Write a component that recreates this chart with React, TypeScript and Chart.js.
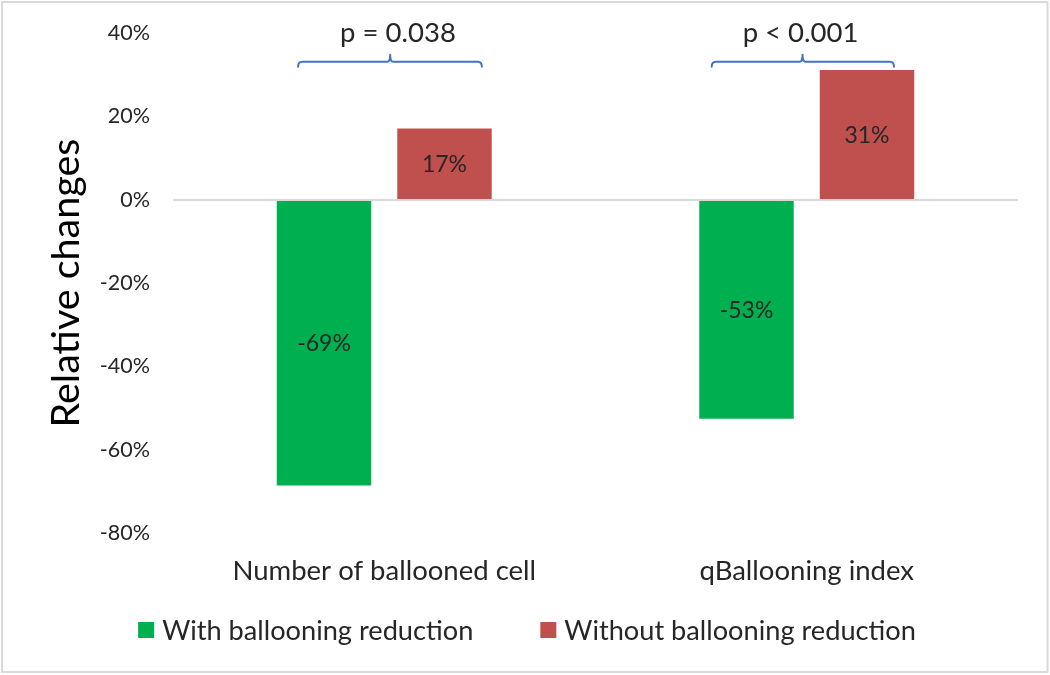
import React, { useEffect, useRef } from "react";
import { Chart, registerables } from "chart.js";

Chart.register(...registerables);

// ---- data ----
const categories = ["Number of ballooned cell", "qBallooning index"];
const seriesNames = ["With ballooning reduction", "Without ballooning reduction"];
const withReduction = [-0.686, -0.526];
const withoutReduction = [0.171, 0.311];
const pValueLabels = ["p = 0.038", "p < 0.001"];
const yMin = -0.8;
const yMax = 0.4;
const yStep = 0.2;

const FONT = "Lato";
const TEXT = "#262626";
const COLORS = ["#00B050", "#C0504D"];

const fmtPct = (v: number) => `${Math.round(v * 100)}%`;

const backgroundPlugin = {
  id: "bgFrame",
  beforeDraw(chart: any) {
    const { ctx, width, height } = chart;
    ctx.save();
    ctx.fillStyle = "#ffffff";
    ctx.fillRect(0, 0, width, height);
    ctx.strokeStyle = "#d9d9d9";
    ctx.lineWidth = 2;
    ctx.strokeRect(2, 2, width - 4.5, height - 5);
    ctx.restore();
  },
};

// bracket geometry relative to each category centre (fraction of category width)
const bracketGeom = [
  { left: -0.204, right: 0.231, mid: 0.014, text: 0.0325 },
  { left: -0.225, right: 0.2065, mid: -0.01, text: -0.0148 },
];

const annotationPlugin = {
  id: "annotations",
  afterDraw(chart: any) {
    const { ctx } = chart;
    const xs = chart.scales.x;
    const ys = chart.scales.y;
    ctx.save();

    // data labels in the middle of each bar
    ctx.font = `23px ${FONT}`;
    ctx.fillStyle = TEXT;
    ctx.textAlign = "center";
    ctx.textBaseline = "middle";
    chart.data.datasets.forEach((ds: any, di: number) => {
      const meta = chart.getDatasetMeta(di);
      meta.data.forEach((el: any, i: number) => {
        const v = ds.data[i];
        ctx.fillText(fmtPct(v), el.x, (el.y + el.base) / 2 + 1);
      });
    });

    // brackets with p values
    const catW = xs.width / categories.length;
    const yLine = ys.getPixelForValue(0.331);
    const yText = ys.getPixelForValue(0.4);
    ctx.strokeStyle = "#4472C4";
    ctx.lineWidth = 2;
    ctx.lineJoin = "round";
    ctx.lineCap = "round";
    categories.forEach((_c, i) => {
      const g = bracketGeom[i];
      const cx = xs.getPixelForValue(i);
      const l = cx + g.left * catW;
      const r = cx + g.right * catW;
      const m = cx + g.mid * catW;
      ctx.beginPath();
      ctx.moveTo(l, yLine + 5);
      ctx.quadraticCurveTo(l, yLine, l + 4, yLine);
      ctx.lineTo(m - 3, yLine);
      ctx.quadraticCurveTo(m, yLine, m, yLine - 7);
      ctx.quadraticCurveTo(m, yLine, m + 3, yLine);
      ctx.lineTo(r - 4, yLine);
      ctx.quadraticCurveTo(r, yLine, r, yLine + 5);
      ctx.stroke();

      ctx.font = `27.5px ${FONT}`;
      ctx.fillStyle = TEXT;
      ctx.textAlign = "center";
      ctx.textBaseline = "middle";
      ctx.fillText(pValueLabels[i], cx + g.text * catW, yText);
    });

    // legend (custom layout: square swatch, small gap, wide spacing between items)
    ctx.font = `27.2px ${FONT}`;
    const box = 16;
    const gapBoxText = 8;
    const gapItems = 67;
    const items = chart.data.datasets.map((ds: any) => ({
      text: ds.label,
      color: ds.backgroundColor,
      w: ctx.measureText(ds.label).width,
    }));
    const total = items.reduce(
      (s: number, it: any, i: number) => s + box + gapBoxText + it.w + (i > 0 ? gapItems : 0),
      0
    );
    let x = 527 - total / 2;
    const yc = 630;
    items.forEach((it: any) => {
      ctx.fillStyle = it.color;
      ctx.fillRect(x, yc - box / 2, box, box);
      x += box + gapBoxText;
      ctx.fillStyle = TEXT;
      ctx.textAlign = "left";
      ctx.textBaseline = "middle";
      ctx.fillText(it.text, x, yc + 1);
      x += it.w + gapItems;
    });

    ctx.restore();
  },
};

export default function App() {
  const ref = useRef<HTMLCanvasElement>(null);

  useEffect(() => {
    const canvas = ref.current;
    if (!canvas) return;
    const chart = new Chart(canvas, {
      type: "bar",
      data: {
        labels: categories,
        datasets: [
          {
            label: seriesNames[0],
            data: withReduction,
            backgroundColor: COLORS[0],
            borderWidth: 0,
            categoryPercentage: 0.5704,
            barPercentage: 0.784,
          },
          {
            label: seriesNames[1],
            data: withoutReduction,
            backgroundColor: COLORS[1],
            borderWidth: 0,
            categoryPercentage: 0.5704,
            barPercentage: 0.784,
          },
        ],
      },
      options: {
        responsive: false,
        animation: false,
        devicePixelRatio: 1,
        layout: { padding: { left: 39, right: 32, top: 33, bottom: 82 } },
        plugins: {
          legend: { display: false },
          tooltip: { enabled: false },
        },
        scales: {
          x: {
            grid: { display: false, drawTicks: false },
            border: { display: false },
            ticks: {
              color: TEXT,
              font: { family: FONT, size: 27.5 },
              padding: 21.5,
              maxRotation: 0,
              autoSkip: false,
            },
            afterFit: (s: any) => {
              s.height = 60;
            },
          },
          y: {
            min: yMin,
            max: yMax,
            ticks: {
              stepSize: yStep,
              padding: 23,
              color: TEXT,
              font: { family: FONT, size: 21.5 },
              callback: (v: any) => fmtPct(Number(v)),
            },
            grid: {
              drawTicks: false,
              lineWidth: 2,
              z: 1,
              color: (c: any) =>
                c.tick && Math.abs(c.tick.value) < 1e-9 ? "#d9d9d9" : "rgba(0,0,0,0)",
            },
            border: { display: false },
            title: {
              display: true,
              text: "Relative changes",
              color: "#000000",
              font: { family: FONT, size: 39.5 },
              padding: { top: 4, bottom: 4 },
            },
            afterFit: (s: any) => {
              s.width = 173 - 39;
              s.paddingTop = 13;
              s.paddingBottom = 13;
            },
          },
        },
      },
      plugins: [backgroundPlugin, annotationPlugin],
    } as any);
    return () => chart.destroy();
  }, []);

  return (
    <div style={{ position: "absolute", left: 0, top: 0, width: 1050, height: 675 }}>
      <canvas ref={ref} width={1050} height={675} style={{ display: "block" }} />
    </div>
  );
}
